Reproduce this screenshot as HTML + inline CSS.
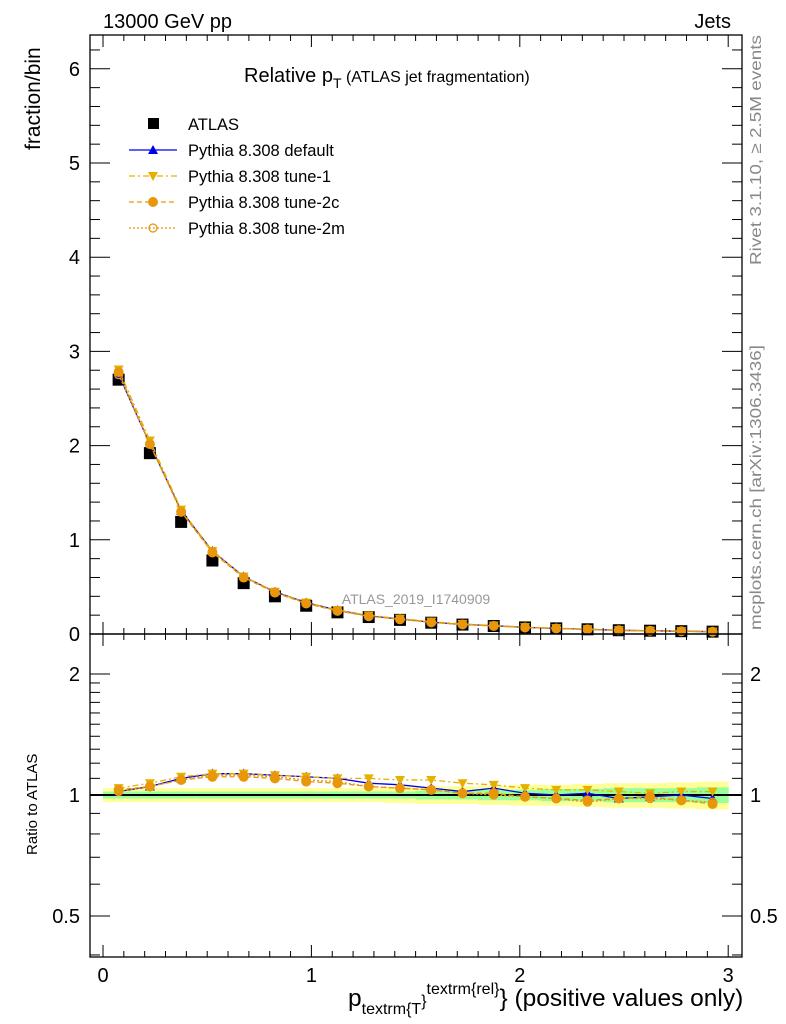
<!DOCTYPE html>
<html><head><meta charset="utf-8"><style>
body{margin:0;background:#fff;}
svg{display:block;font-family:"Liberation Sans",sans-serif;}
</style></head><body>
<svg id="chart" width="786" height="1024" viewBox="0 0 786 1024" xmlns="http://www.w3.org/2000/svg">
<rect width="786" height="1024" fill="#fff"/>
<text x="103" y="28" font-size="20">13000 GeV pp</text>
<text x="731" y="28" font-size="20" text-anchor="end">Jets</text>
<text x="244" y="82" font-size="20">Relative p<tspan font-size="14" dy="6">T</tspan><tspan font-size="16" dy="-6"> (ATLAS jet fragmentation)</tspan></text>
<text transform="translate(40,150) rotate(-90)" font-size="21" text-anchor="start">fraction/bin</text>
<text transform="translate(37,855) rotate(-90)" font-size="15">Ratio to ATLAS</text>
<text transform="translate(761,265) rotate(-90)" font-size="16" textLength="230" lengthAdjust="spacingAndGlyphs" fill="#888">Rivet 3.1.10, ≥ 2.5M events</text>
<text transform="translate(761,630) rotate(-90)" font-size="16" textLength="285" lengthAdjust="spacingAndGlyphs" fill="#888">mcplots.cern.ch [arXiv:1306.3436]</text>
<text x="416" y="604" font-size="14" fill="#999" text-anchor="middle">ATLAS_2019_I1740909</text>
<text x="348" y="1006" font-size="24.5">p<tspan font-size="16" dy="8">textrm{T</tspan><tspan font-size="16" dy="-8">}</tspan><tspan font-size="16" dy="-12">textrm{rel}</tspan><tspan font-size="24.5" dy="12">} (positive values only)</tspan></text>
<g id="g"></g>
</svg>
<script>
const xEdges=[0,0.15,0.3,0.45,0.6,0.75,0.9,1.05,1.2,1.35,1.5,1.65,1.8,1.95,2.1,2.25,2.4,2.55,2.7,2.85,3.0];
const atlas=[2.70,1.92,1.19,0.78,0.54,0.40,0.30,0.23,0.18,0.15,0.12,0.10,0.085,0.07,0.06,0.05,0.04,0.035,0.03,0.025];
const rDefault=[1.02,1.05,1.10,1.13,1.13,1.12,1.11,1.10,1.07,1.06,1.04,1.02,1.04,1.01,1.00,1.01,0.98,0.99,1.00,0.98];
const rTune1=[1.04,1.07,1.11,1.13,1.13,1.12,1.11,1.10,1.10,1.09,1.09,1.07,1.06,1.04,1.03,1.03,1.02,1.01,1.02,1.02];
const rTune2c=[1.03,1.05,1.09,1.11,1.11,1.10,1.08,1.07,1.05,1.04,1.03,1.01,1.01,0.99,0.98,0.97,0.98,0.99,0.97,0.95];
const rTune2m=[1.02,1.05,1.09,1.12,1.12,1.11,1.09,1.08,1.05,1.04,1.03,1.01,1.00,0.99,0.98,0.96,0.98,0.98,0.97,0.96];
const xTicks=[0,1,2,3];
const yTicks=[0,1,2,3,4,5,6];
const rTicks=[0.5,1,2];
const errYellow=[0.04,0.04,0.04,0.04,0.04,0.04,0.04,0.04,0.04,0.045,0.05,0.05,0.055,0.06,0.06,0.065,0.07,0.07,0.075,0.08];
const errGreen=[0.02,0.02,0.02,0.02,0.02,0.02,0.02,0.02,0.02,0.02,0.025,0.025,0.03,0.03,0.035,0.035,0.04,0.04,0.04,0.045];

const L=90,R=742,T=35,MB=634,RB=957;
const X=v=>103+v*208.4;
const Y=v=>634-v*94.2;
const RY=v=>795-121*Math.log2(v);
const g=document.getElementById('g');
const NS='http://www.w3.org/2000/svg';
function mk(tag,attrs,name,parent){const e=document.createElementNS(NS,tag);for(const k in attrs)e.setAttribute(k,attrs[k]);


(parent||g).appendChild(e);return e;}
const mids=xEdges.slice(0,-1).map((e,i)=>(e+xEdges[i+1])/2);

for(let i=0;i<mids.length;i++){
 const x0=X(xEdges[i]),x1=X(xEdges[i+1]);
 mk('rect',{x:x0,y:RY(1+errYellow[i]),width:x1-x0+0.5,height:RY(1-errYellow[i])-RY(1+errYellow[i]),fill:'#ffff99'},'band-yellow');
 mk('rect',{x:x0,y:RY(1+errGreen[i]),width:x1-x0+0.5,height:RY(1-errGreen[i])-RY(1+errGreen[i]),fill:'#99ff99'},'band-green');
}
mk('line',{x1:L,x2:R,y1:RY(1),y2:RY(1),stroke:'#000','stroke-width':2},'ratio-reference-line');

const series=[
 {r:rDefault,c:'#0000ee',dash:'',m:'tri',n:'default'},
 {r:rTune1,c:'#e6b000',dash:'6,3,2,3',m:'tridown',n:'tune-1'},
 {r:rTune2c,c:'#e8960a',dash:'5,3',m:'dot',n:'tune-2c'},
 {r:rTune2m,c:'#e8960a',dash:'2,2',m:'circ',n:'tune-2m'}];
function marker(m,x,y,c,name){
 if(m==='tri')mk('path',{d:`M${x},${y-5}L${x+5},${y+4}L${x-5},${y+4}Z`,fill:c},name);
 else if(m==='tridown')mk('path',{d:`M${x-5},${y-4}L${x+5},${y-4}L${x},${y+5}Z`,fill:c},name);
 else if(m==='dot')mk('circle',{cx:x,cy:y,r:5,fill:c},name);
 else mk('circle',{cx:x,cy:y,r:4,fill:'none',stroke:c,'stroke-width':1.3},name);
}
mids.forEach((m,i)=>mk('rect',{x:X(m)-6,y:Y(atlas[i])-6,width:12,height:12,fill:'#000'},'atlas-point'));
series.forEach(s=>{
 const mp=mids.map((m,i)=>X(m)+','+Y(atlas[i]*s.r[i])).join(' ');
 mk('polyline',{points:mp,fill:'none',stroke:s.c,'stroke-width':1.3,'stroke-dasharray':s.dash},'line-'+s.n);
 const rp=mids.map((m,i)=>X(m)+','+RY(s.r[i])).join(' ');
 mk('polyline',{points:rp,fill:'none',stroke:s.c,'stroke-width':1.3,'stroke-dasharray':s.dash},'ratio-line-'+s.n);
 mids.forEach((m,i)=>{marker(s.m,X(m),Y(atlas[i]*s.r[i]),s.c,'point-'+s.n);marker(s.m,X(m),RY(s.r[i]),s.c,'ratio-point-'+s.n);});
});
mk('rect',{x:L,y:T,width:R-L,height:MB-T,fill:'none',stroke:'#000','stroke-width':1.3},'main-frame');
mk('rect',{x:L,y:MB,width:R-L,height:RB-MB,fill:'none',stroke:'#000','stroke-width':1.3},'ratio-frame');
for(let v=0;v<=3.0001;v+=0.1){const maj=Math.abs(v-Math.round(v))<1e-6;const len=maj?12:6;const x=X(v);
 mk('line',{x1:x,x2:x,y1:MB,y2:MB-len,stroke:'#000'},'x-tick');mk('line',{x1:x,x2:x,y1:T,y2:T+len,stroke:'#000'},'x-tick');
 mk('line',{x1:x,x2:x,y1:RB,y2:RB-len,stroke:'#000'},'x-tick');mk('line',{x1:x,x2:x,y1:MB,y2:MB+len,stroke:'#000'},'x-tick');}
xTicks.forEach(v=>{const t=mk('text',{x:X(v),y:982,'font-size':20,'text-anchor':'middle'},'x-tick-label');t.textContent=v;});
for(let v=0;v<=6.3;v+=0.2){const maj=Math.abs(v-Math.round(v))<1e-6;const len=maj?20:10;const y=Y(v);if(y<T)continue;
 mk('line',{x1:L,x2:L+len,y1:y,y2:y,stroke:'#000'},'y-tick');mk('line',{x1:R,x2:R-len,y1:y,y2:y,stroke:'#000'},'y-tick');}
yTicks.forEach(v=>{const t=mk('text',{x:80,y:Y(v)+7,'font-size':20,'text-anchor':'end'},'y-tick-label');t.textContent=v;});
[0.4,0.5,0.6,0.7,0.8,0.9,1,1.1,1.2,1.3,1.4,1.5,1.6,1.7,1.8,1.9,2].forEach(v=>{const y=RY(v);if(y>RB||y<MB)return;const maj=rTicks.includes(v);const len=maj?20:10;
 mk('line',{x1:L,x2:L+len,y1:y,y2:y,stroke:'#000'},'ratio-tick');mk('line',{x1:R,x2:R-len,y1:y,y2:y,stroke:'#000'},'ratio-tick');});
rTicks.forEach(v=>{const y=RY(v)+7;const t=mk('text',{x:80,y:y,'font-size':20,'text-anchor':'end'},'ratio-tick-label');t.textContent=v;
 const t2=mk('text',{x:750,y:y,'font-size':20},'ratio-tick-label-right');t2.textContent=v;});
const lg=mk('g',{},'legend');
mk('rect',{x:148,y:118,width:11,height:11,fill:'#000'},'legend-atlas-marker',lg);
let t=mk('text',{x:188,y:130,'font-size':16.5},'legend-atlas-label',lg);t.textContent='ATLAS';
series.forEach((s,i)=>{const y=150+i*26;
 mk('line',{x1:129,x2:177,y1:y,y2:y,stroke:s.c,'stroke-width':1.3,'stroke-dasharray':s.dash},'legend-line-'+s.n,lg);
 marker(s.m,153,y,s.c,'legend-marker-'+s.n);
 const tt=mk('text',{x:188,y:y+6,'font-size':16.5},'legend-label-'+s.n,lg);tt.textContent='Pythia 8.308 '+s.n;});
</script>
</body></html>
